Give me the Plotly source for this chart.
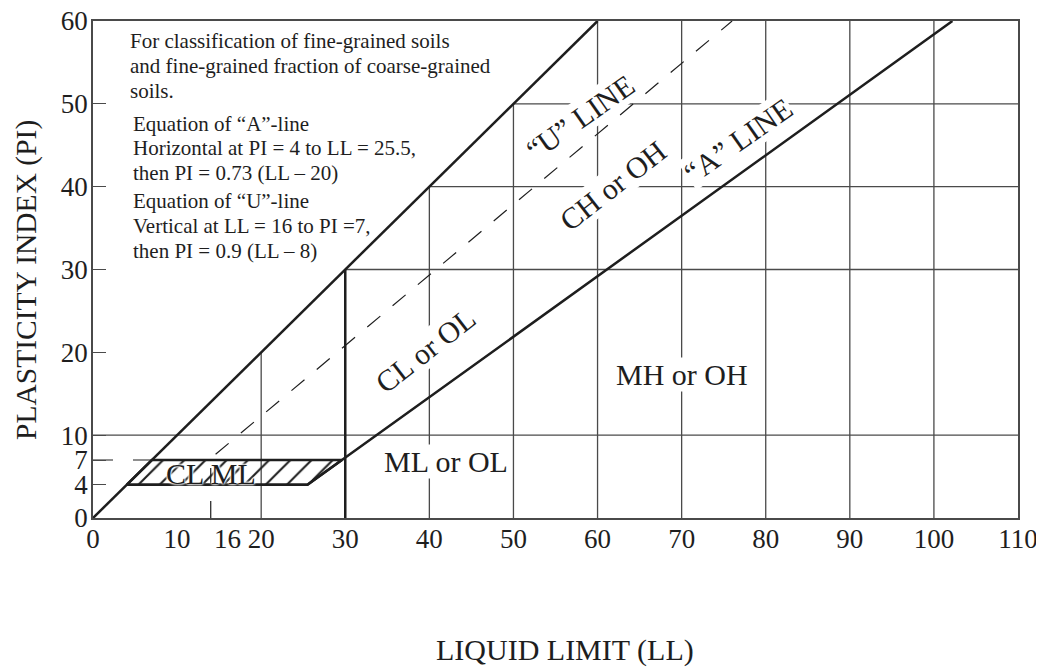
import plotly.graph_objects as go

# ── Data (LL = liquid limit, PI = plasticity index) ─────────────────────────
LL_TICKS = [0, 10, 16, 20, 30, 40, 50, 60, 70, 80, 90, 100, 110]
PI_TICKS = [0, 4, 7, 10, 20, 30, 40, 50, 60]

UPPER_LL = [0, 60]              # upper limit line
UPPER_PI = [0, 60]
A_LINE_LL = [4, 25.5, 102.2]    # "A" line
A_LINE_PI = [4, 4, 60]
U_LINE_LL = [14, 14, 76]        # "U" line (dashed)
U_LINE_PI = [0, 7.2, 60]
PI7_LL = [0, 7]
PI7_PI = [7, 7]
CLML_LL = [4, 25.5, 29.6, 7, 4]  # hatched CL-ML zone
CLML_PI = [4, 4, 7, 7, 4]
LL30_LL = [30, 30]
LL30_PI = [0, 30]

GRID_V_LL = [20, 40, 50, 60, 70, 80, 90, 100]
GRID_V_TOP = [20, 40, 50, 60, 60, 60, 60, 60]
GRID_H_PI = [10, 30, 40, 50]
GRID_H_FROM = [0, 30, 40, 50]
LL_MAX = 110
PI_MAX = 60

# ── Style ───────────────────────────────────────────────────────────────────
INK = "#1e1e1e"
GRID = "#4a4a4a"
FONT = "Liberation Serif"
HALO = "0 0 2px white, 0 0 2px white, 0 0 3px white, 0 0 3px white"


def segs(xs0, xs1, ys0, ys1):
    x, y = [], []
    for a, b, c, d in zip(xs0, xs1, ys0, ys1):
        x += [a, b, None]
        y += [c, d, None]
    return x, y


fig = go.Figure()

# thin staircase grid
gx, gy = segs(GRID_V_LL, GRID_V_LL, [0] * len(GRID_V_LL), GRID_V_TOP)
hx, hy = segs(GRID_H_FROM, [LL_MAX] * len(GRID_H_PI), GRID_H_PI, GRID_H_PI)
fig.add_trace(go.Scatter(x=gx + hx, y=gy + hy, mode="lines",
                         line=dict(color=GRID, width=1.3), hoverinfo="skip"))

# hatched CL-ML zone
fig.add_trace(go.Scatter(
    x=CLML_LL, y=CLML_PI, mode="lines", fill="toself",
    fillcolor="rgba(0,0,0,0)",
    fillpattern=dict(shape="/", fgcolor=INK, fgopacity=1, bgcolor="rgba(0,0,0,0)",
                     size=15, solidity=0.14),
    line=dict(color=INK, width=2.5), hoverinfo="skip",
))

# dashed lines
fig.add_trace(go.Scatter(x=U_LINE_LL, y=U_LINE_PI, mode="lines",
                         line=dict(color=INK, width=1.2, dash="17px,16px"),
                         hoverinfo="skip"))
fig.add_trace(go.Scatter(x=PI7_LL, y=PI7_PI, mode="lines",
                         line=dict(color=INK, width=1.2, dash="20px,20px"),
                         hoverinfo="skip"))

# thick boundary lines
for xs, ys in [(UPPER_LL, UPPER_PI), (A_LINE_LL, A_LINE_PI), (LL30_LL, LL30_PI)]:
    fig.add_trace(go.Scatter(x=xs, y=ys, mode="lines",
                             line=dict(color=INK, width=2.5), hoverinfo="skip"))

# zone labels
labels = [
    ("CL ML", 14, 5.4, 0, False),
    ("ML or OL", 42, 6.8, 0, True),
    ("MH or OH", 70, 17.3, 0, True),
    ("CL or OL", 39.5, 20.2, -38, True),
    ("CH or OH", 61.8, 40.2, -38, True),
    ("“U” LINE", 57.9, 48.4, -35, True),
    ("“A” LINE", 76.7, 45.6, -35, True),
]
for txt, lx, ly, ang, bg in labels:
    font = dict(family=FONT, size=30, color=INK)
    if not bg:
        font["shadow"] = HALO   # cut the hatching around the letters
    fig.add_annotation(x=lx, y=ly, text=txt, showarrow=False, textangle=ang,
                       font=font, bgcolor="white" if bg else None, borderpad=0)

# notes, one annotation per line to keep the tight leading
notes = [
    ("For classification of fine-grained soils", 4.16, 57.55),
    ("and fine-grained fraction of coarse-grained", 4.16, 54.53),
    ("soils.", 4.16, 51.51),
    ("Equation of “A”-line", 4.52, 47.58),
    ("Horizontal at PI = 4 to LL = 25.5,", 4.52, 44.63),
    ("then PI = 0.73 (LL – 20)", 4.52, 41.61),
    ("Equation of “U”-line", 4.52, 38.22),
    ("Vertical at LL = 16 to PI =7,", 4.52, 35.21),
    ("then PI = 0.9 (LL – 8)", 4.52, 32.19),
]
for txt, nx, ny in notes:
    fig.add_annotation(x=nx, y=ny, text=txt, xanchor="left", yanchor="middle",
                       showarrow=False,
                       font=dict(family=FONT, size=21, color=INK))

# axis titles
fig.add_annotation(x=0.51, y=-0.2656, xref="paper", yref="paper", showarrow=False,
                   xanchor="center", yanchor="middle",
                   text="LIQUID LIMIT (LL)",
                   font=dict(family=FONT, size=30, color=INK))
fig.add_annotation(x=-0.0714, y=0.479, xref="paper", yref="paper", showarrow=False,
                   xanchor="center", yanchor="middle",
                   text="PLASTICITY INDEX (PI)", textangle=-90,
                   font=dict(family=FONT, size=29.5, color=INK))

# page body keeps an 8px margin, so the figure is 8px smaller on each side
fig.update_layout(
    width=1036, height=660,
    margin=dict(l=85, r=26, t=13, b=150),
    plot_bgcolor="white", paper_bgcolor="white",
    showlegend=False,
    font=dict(family=FONT, size=27, color=INK),
    xaxis=dict(range=[0, LL_MAX], tickvals=LL_TICKS, showgrid=False, zeroline=False,
               showline=True, mirror=True, linecolor=GRID, linewidth=1.5,
               ticks="", ticklabelstandoff=-4, ticklabeloverflow="allow",
               automargin=False, fixedrange=True),
    yaxis=dict(range=[0, PI_MAX], tickvals=PI_TICKS, showgrid=False, zeroline=False,
               showline=True, mirror=True, linecolor=GRID, linewidth=1.5,
               ticks="inside", ticklen=13, tickcolor=GRID, tickwidth=1.3,
               ticklabelstandoff=-2, ticklabeloverflow="allow",
               automargin=False, fixedrange=True),
)

fig.write_html("out.html")
